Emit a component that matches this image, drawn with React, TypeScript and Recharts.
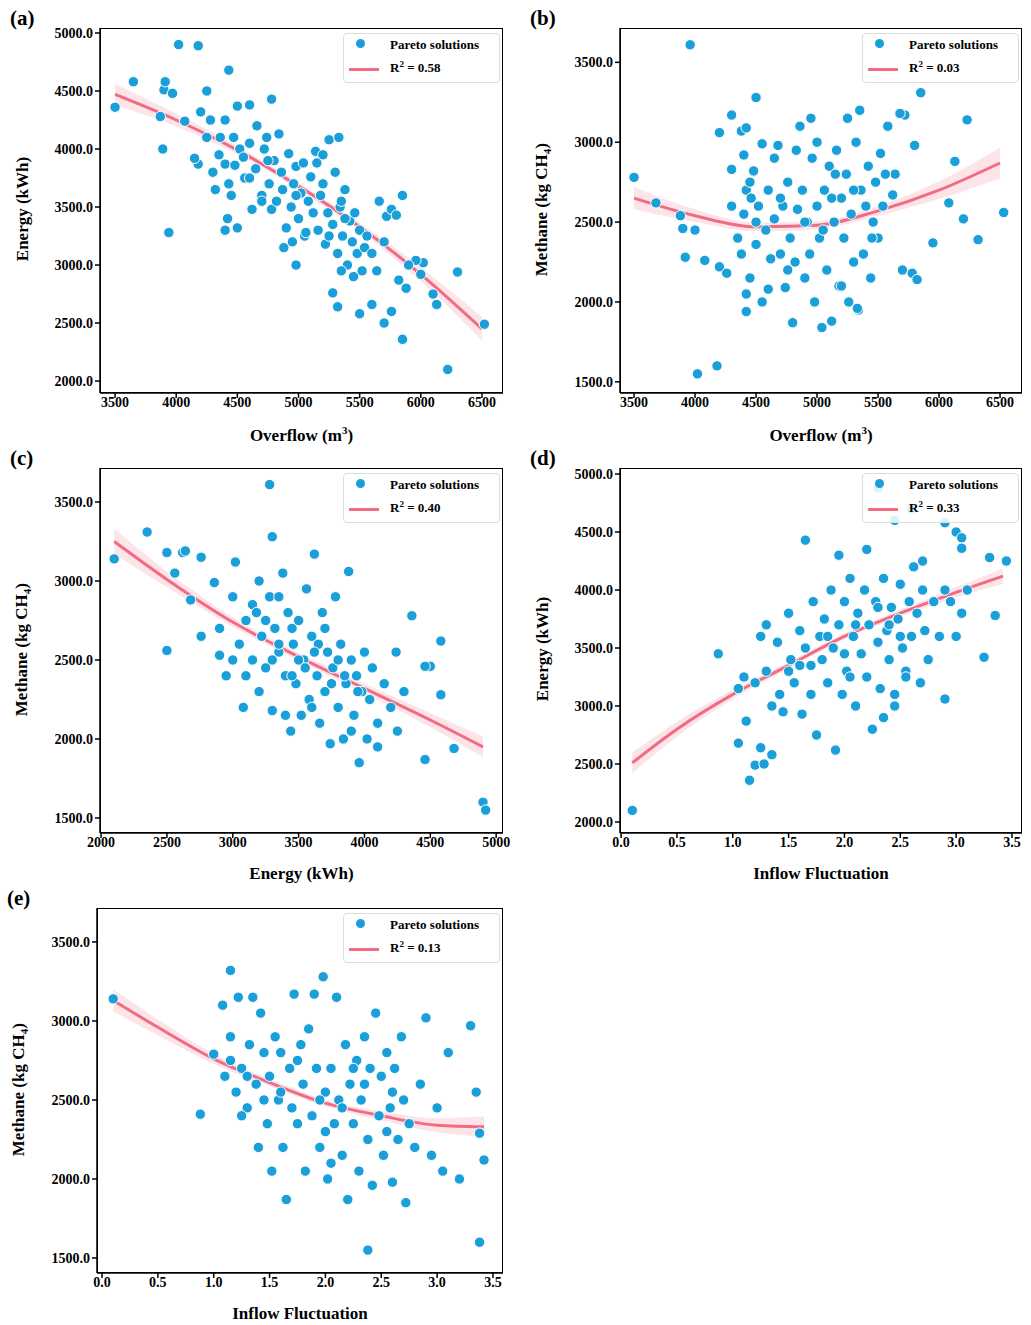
import { ComposedChart, Scatter, Line, Area, XAxis, YAxis } from "recharts";

const ptsA = [[3500,4360],[3650,4580],[3870,4280],[3900,4510],[3910,4580],[3890,4000],[3940,3280],[3970,4480],[4020,4900],[4070,4240],[4180,4890],[4200,4320],[4250,4500],[4430,4680],[4400,4250],[4500,4370],[4780,4430],[5850,2360],[6220,2100],[6300,2940],[6520,2490],[6130,2660],[6100,2750],[6020,3020],[5960,3040],[6000,2920],[5850,3600],[5700,2500],[5760,2600],[5600,2660],[5500,2580],[5280,2760],[5320,2640],[4980,3000],
[4300,3800],[4320,3650],[4350,3950],[4360,4100],[4400,3870],[4420,3400],[4430,3700],[4450,3600],[4470,4100],[4480,3860],[4500,3320],[4520,4000],[4550,3930],[4560,3750],[4600,4050],[4620,3480],[4650,3830],[4660,4200],[4700,3600],[4720,4000],[4740,4100],[4760,3700],[4780,3480],[4800,3900],[4820,3550],[4840,4130],[4860,3800],[4870,3650],[4900,3320],[4920,3960],[4940,3500],[4960,3700],[4980,3850],[5000,3400],[5020,3620],[5040,3880],[5050,3250],[5080,3550],[5100,3760],[5120,3450],[5140,3980],[5160,3300],[5180,3600],[5200,3700],[5220,3180],[5240,3450],[5250,4080],[5280,3350],[5300,3800],[5320,3100],[5330,4100],[5340,3500],[5360,3250],[5380,3650],[5400,3000],[5420,3380],[5440,3200],[5460,3450],[5480,3100],[5500,3300],[5520,2950],[5540,3150],[5560,3250],[5600,3100],[5640,2950],[5660,3550],[5700,3200],[5720,3420],[5760,3480],[5800,3430],[5820,2870],[5880,2800],[5900,3000],[4280,4250],[4600,4380],[4180,3870],[4150,3920],[4250,4100],[4700,3550],[4880,3150],[5060,3280],[5150,3880],[5350,3550],[4600,3750],[4750,3900],[5250,3250],[5380,3400],[4950,3200],[5450,2900],[5350,2950],[4400,3300],[4980,3600],[5200,3950]];

const ptsB = [[3500,2780],[3680,2620],[3880,2540],[3900,2460],[3920,2280],[3960,3610],[4000,2450],[4020,1550],[4080,2260],[4180,1600],[4200,3060],[4200,2220],[4260,2180],[4300,3170],[4300,2830],[4380,3070],[4420,3090],[4400,2920],[4420,2700],[4420,1940],[4500,3280],[4550,2990],[5850,3310],[6230,3140],[6130,2880],[6200,2520],[6320,2390],[6530,2560],[6080,2620],[5950,2370],[5800,2980],[5720,3170],[5680,3180],[5640,2800],[5700,2200],[5780,2180],[5820,2140],[5620,2670],
[4300,2600],[4350,2400],[4380,2300],[4400,2550],[4450,2150],[4460,2650],[4480,2820],[4500,2360],[4520,2600],[4550,2000],[4580,2450],[4600,2700],[4620,2270],[4650,2520],[4680,2980],[4700,2300],[4720,2600],[4740,2090],[4760,2750],[4780,2400],[4800,1870],[4820,2250],[4840,2580],[4860,3100],[4880,2700],[4900,2150],[4920,2500],[4940,2300],[4960,2900],[4980,2000],[5000,2600],[5020,2400],[5040,1840],[5060,2700],[5080,2200],[5100,2850],[5120,1880],[5140,2500],[5160,2950],[5180,2100],[5200,2650],[5220,2400],[5240,2800],[5260,2000],[5280,2550],[5300,2250],[5320,3000],[5340,1950],[5360,2700],[5380,2300],[5400,2600],[5420,2850],[5440,2150],[5460,2500],[5480,2750],[5500,2400],[5520,2930],[5540,2600],[5560,2800],[5580,3100],[4420,2050],[4650,2900],[4700,2650],[4830,2950],[4950,3150],[5050,2450],[5150,2800],[5250,3150],[5350,3200],[5330,1960],[4600,2080],[4900,2500],[5000,3000],[5200,2100],[5450,2400],[4500,2500],[4760,2200],[5120,2650],[5300,2700],[4450,2750]];

const ptsC = [[2100,3140],[2350,3310],[2500,3180],[2500,2560],[2560,3050],[2620,3180],[2640,3190],[2680,2880],[2760,3150],[2760,2650],[2860,2990],[3280,3610],[3300,3280],[4900,1600],[4920,1550],[4680,1940],[4580,2620],[4580,2280],[4500,2460],[4460,2460],[4460,1870],[4360,2780],[4240,2550],
[2900,2700],[2950,2400],[3000,2900],[3050,2600],[3080,2200],[3100,2750],[3150,2500],[3200,3000],[3220,2650],[3250,2450],[3280,2900],[3300,2180],[3320,2700],[3350,2550],[3380,3050],[3400,2400],[3420,2800],[3440,2050],[3460,2600],[3480,2350],[3500,2750],[3520,2150],[3540,2500],[3560,2950],[3580,2250],[3600,2650],[3620,3170],[3640,2400],[3660,2100],[3680,2800],[3700,2300],[3720,2550],[3740,1970],[3760,2450],[3780,2900],[3800,2200],[3820,2600],[3840,2000],[3860,2350],[3880,3060],[3900,2500],[3920,2150],[3940,2400],[3960,1850],[3980,2300],[4000,2550],[4020,2000],[4040,2250],[4060,2450],[4100,2100],[4150,2350],[4200,2200],[4250,2050],[4300,2300],[3150,2850],[3250,2750],[3350,2600],[3450,2700],[3550,2450],[3650,2600],[3750,2350],[3850,2400],[3950,2300],[3300,2500],[3600,2200],[3700,2700],[3900,2050],[3400,2150],[3100,2400],[3000,2500],[3500,2500],[3200,2300],[3800,2500],[4100,1950],[3620,2550],[3450,2400],[3020,3120],[3180,2800],[2900,2530],[3350,2900]];

const ptsD = [[0.1,2100],[0.87,3450],[1.05,2680],[1.12,2870],[1.15,2360],[1.2,2490],[1.25,2640],[1.28,2500],[1.35,2580],[2.3,4880],[2.45,4600],[2.6,4700],[2.9,4580],[3.0,4500],[3.05,4450],[3.05,4360],[3.3,4280],[3.45,4250],[3.35,3780],[3.25,3420],[2.9,3060],[1.65,4430],[1.05,3150],[1.1,3250],
[1.2,3200],[1.25,3600],[1.3,3300],[1.35,3000],[1.4,3550],[1.42,3100],[1.45,2950],[1.5,3800],[1.52,3400],[1.55,3200],[1.6,3650],[1.62,2930],[1.65,3500],[1.7,3350],[1.72,3900],[1.75,2750],[1.78,3600],[1.8,3400],[1.82,3750],[1.85,3200],[1.88,4000],[1.9,3500],[1.92,2620],[1.95,3700],[1.98,3100],[2.0,3900],[2.02,3300],[2.05,4100],[2.08,3600],[2.1,3000],[2.12,3800],[2.15,3450],[2.18,4000],[2.2,3250],[2.22,3700],[2.25,2800],[2.28,3900],[2.3,3550],[2.32,3150],[2.35,4100],[2.38,3650],[2.4,3400],[2.42,3850],[2.45,3100],[2.48,3750],[2.5,4050],[2.52,3500],[2.55,3300],[2.58,3900],[2.6,3600],[2.62,4200],[2.65,3800],[2.68,3200],[2.7,4000],[2.72,3650],[2.75,3400],[2.8,3900],[2.85,3600],[2.9,4000],[2.95,3900],[3.0,3600],[3.05,3800],[3.1,4000],[1.6,3350],[1.85,3600],[2.0,3450],[2.1,3700],[2.3,3850],[2.4,3700],[2.5,3600],[2.2,4350],[1.95,4300],[2.7,4250],[2.55,3250],[2.45,3000],[2.05,3250],[1.7,3100],[1.5,3300],[1.3,3700],[2.35,2900]];

const ptsE = [[0.1,3140],[0.88,2410],[1.0,2790],[1.08,3100],[1.15,3320],[2.38,1550],[3.38,1600],[3.42,2120],[3.3,2970],[3.35,2550],[3.38,2290],[3.2,2000],[3.05,2050],[3.1,2800],[3.0,2450],[1.1,2650],[1.15,2750],
[1.15,2900],[1.2,2550],[1.22,3150],[1.25,2700],[1.3,2450],[1.32,2850],[1.35,3150],[1.38,2600],[1.4,2200],[1.42,3050],[1.45,2800],[1.48,2350],[1.5,2650],[1.52,2050],[1.55,2900],[1.58,2500],[1.6,2800],[1.62,2200],[1.65,1870],[1.68,2700],[1.7,2450],[1.72,3170],[1.75,2350],[1.78,2850],[1.8,2600],[1.82,2050],[1.85,2950],[1.88,2400],[1.9,3170],[1.92,2700],[1.95,2200],[1.98,3280],[2.0,2550],[2.02,2000],[2.05,2700],[2.08,2350],[2.1,3150],[2.12,2500],[2.15,2150],[2.18,2850],[2.2,1870],[2.22,2600],[2.25,2350],[2.28,2750],[2.3,2050],[2.32,2500],[2.35,2900],[2.38,2250],[2.4,2700],[2.42,1960],[2.45,3050],[2.48,2400],[2.5,2650],[2.52,2150],[2.55,2800],[2.58,2450],[2.6,1980],[2.62,2700],[2.65,2250],[2.68,2900],[2.7,2500],[2.72,1850],[2.75,2350],[2.8,2200],[2.85,2600],[2.9,3020],[2.95,2150],[1.6,2550],[1.75,2750],[1.95,2500],[2.15,2450],[2.35,2600],[2.55,2300],[1.45,2500],[2.0,2300],[2.25,2700],[1.3,2650],[2.05,2100],[2.6,2550],[1.25,2400]];

// fitted curves: x, fit, band half-width
const fitA = [[3500,4470,90],[4000,4250,55],[4500,3990,35],[5000,3680,30],[5500,3330,35],[6000,2920,60],[6500,2450,100]];
const fitB = [[3500,2650,70],[4000,2540,40],[4500,2470,28],[5000,2480,25],[5500,2570,30],[6000,2700,55],[6500,2870,95]];
const fitC = [[2100,3250,80],[2500,3010,50],[3000,2740,30],[3500,2520,25],[4000,2320,30],[4500,2120,45],[4900,1950,65]];
const fitD = [[0.1,2510,90],[0.5,2800,65],[1.0,3100,40],[1.5,3350,28],[2.0,3600,25],[2.5,3800,30],[3.0,3980,45],[3.42,4120,65]];
const fitE = [[0.1,3130,70],[0.5,2960,50],[1.0,2760,32],[1.5,2610,22],[2.0,2480,22],[2.5,2400,28],[3.0,2340,45],[3.42,2330,65]];

const SERIF = "'Liberation Serif', 'Times New Roman', serif";
const DOT = "#1a9fd9";
const FIT = "#f26b83";

function Dot(props: any) {
  const { cx, cy } = props;
  return <circle cx={cx} cy={cy} r={5.2} fill={DOT} stroke="#fff" strokeWidth={1} />;
}

function Panel({ left, top, w, h, pts, fit, xDomain, yDomain, xTicks, yTicks, xDec, letter, xTitle, yTitle, r2 }: any) {
  const points = pts.map(([x, y]: number[]) => ({ x, y }));
  const rows = fit.map(([x, f, b]: number[]) => ({ x, fit: f, band: [f - b, f + b] }));
  const tick = { fontSize: 14, fontWeight: 700, fill: "#000", fontFamily: SERIF };
  return (
    <>
      <div style={{ position: "absolute", left: left - 90, top: top - 22, fontSize: 21, fontWeight: 700, fontFamily: SERIF }}>{letter}</div>
      <div style={{ position: "absolute", left: left - 70, top: top - 10 }}>
        <ComposedChart width={w + 80} height={h + 45} data={rows} margin={{ top: 10, right: 10, left: 0, bottom: 5 }}>
          <XAxis dataKey="x" type="number" domain={xDomain} ticks={xTicks} allowDataOverflow height={30}
            tick={{ ...tick, dy: -3 }} stroke="#000" strokeWidth={1.5} tickSize={5}
            tickFormatter={(v) => (xDec ? Number(v).toFixed(1) : String(v))} />
          <YAxis type="number" domain={yDomain} ticks={yTicks} allowDataOverflow width={70}
            tick={tick} stroke="#000" strokeWidth={1.5} tickSize={5}
            tickFormatter={(v) => Number(v).toFixed(1)} />
          <Area dataKey="band" type="monotone" fill={FIT} fillOpacity={0.18} stroke="none" isAnimationActive={false} />
          <Scatter data={points} dataKey="y" shape={Dot} isAnimationActive={false} />
          <Line dataKey="fit" type="monotone" stroke={FIT} strokeWidth={3} dot={false} isAnimationActive={false} />
        </ComposedChart>
      </div>
      <div style={{ position: "absolute", left, top, width: w, height: h, border: "1.5px solid #000", boxSizing: "border-box", pointerEvents: "none" }} />
      <div style={{ position: "absolute", left: left + w - 160, top: top + 5, width: 155, height: 48, border: "1px solid #ddd", borderRadius: 4, background: "rgba(255,255,255,0.85)", fontFamily: SERIF, fontWeight: 700, fontSize: 13 }}>
        <div style={{ position: "absolute", left: 12, top: 5, width: 9, height: 9, borderRadius: 5, background: DOT }} />
        <div style={{ position: "absolute", left: 46, top: 3 }}>Pareto solutions</div>
        <div style={{ position: "absolute", left: 5, top: 34, width: 30, height: 3, background: FIT }} />
        <div style={{ position: "absolute", left: 46, top: 25 }}>R<sup style={{ fontSize: 9 }}>2</sup> = {r2}</div>
      </div>
      <div style={{ position: "absolute", left, width: w, top: top + h + 31, textAlign: "center", fontFamily: SERIF, fontWeight: 700, fontSize: 17 }}>{xTitle}</div>
      <div style={{ position: "absolute", left: left - 78 - h / 2, top: top + h / 2 - 12, width: h, textAlign: "center", transform: "rotate(-90deg)", fontFamily: SERIF, fontWeight: 700, fontSize: 17 }}>{yTitle}</div>
    </>
  );
}

const overflowT = [3500, 4000, 4500, 5000, 5500, 6000, 6500];
const energyT = [2000, 2500, 3000, 3500, 4000, 4500, 5000];
const methT = [1500, 2000, 2500, 3000, 3500];
const energyXT = [2000, 2500, 3000, 3500, 4000, 4500, 5000];
const inflowT = [0, 0.5, 1, 1.5, 2, 2.5, 3, 3.5];

const meth = <span>Methane (kg CH<sub style={{ fontSize: 11 }}>4</sub>)</span>;
const overflow = <span>Overflow (m<sup style={{ fontSize: 11 }}>3</sup>)</span>;

export default function App() {
  return (
    <div style={{ position: "absolute", left: 0, top: 0, width: 1031, height: 1325, background: "#fff" }}>
      <Panel left={100} top={28} w={403} h={365} pts={ptsA} fit={fitA} xDomain={[3377, 6672]} yDomain={[1897, 5043]}
        xTicks={overflowT} yTicks={energyT} letter="(a)" xTitle={overflow} yTitle="Energy (kWh)" r2="0.58" />
      <Panel left={620} top={28} w={402} h={365} pts={ptsB} fit={fitB} xDomain={[3385, 6680]} yDomain={[1430, 3715]}
        xTicks={overflowT} yTicks={methT} letter="(b)" xTitle={overflow} yTitle={meth} r2="0.03" />
      <Panel left={100} top={468} w={403} h={365} pts={ptsC} fit={fitC} xDomain={[1992, 5052]} yDomain={[1405, 3715]}
        xTicks={energyXT} yTicks={methT} letter="(c)" xTitle="Energy (kWh)" yTitle={meth} r2="0.40" />
      <Panel left={620} top={468} w={402} h={365} pts={ptsD} fit={fitD} xDomain={[-0.01, 3.59]} yDomain={[1905, 5052]}
        xTicks={inflowT} yTicks={energyT} xDec letter="(d)" xTitle="Inflow Fluctuation" yTitle="Energy (kWh)" r2="0.33" />
      <Panel left={97} top={908} w={406} h={365} pts={ptsE} fit={fitE} xDomain={[-0.045, 3.59]} yDomain={[1405, 3715]}
        xTicks={inflowT} yTicks={methT} xDec letter="(e)" xTitle="Inflow Fluctuation" yTitle={meth} r2="0.13" />
    </div>
  );
}
